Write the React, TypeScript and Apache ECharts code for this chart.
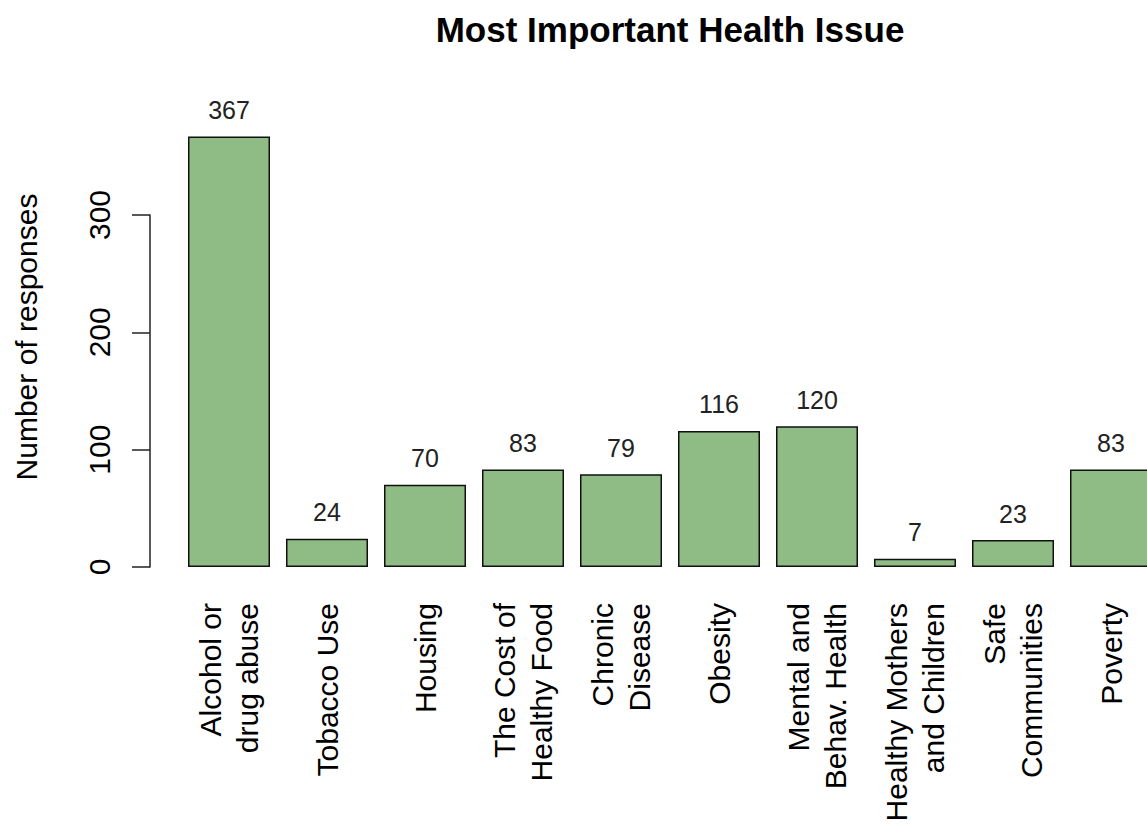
import React, { useEffect, useRef } from "react";
import * as echarts from "echarts";

const categories = [
  "Alcohol or\ndrug abuse",
  "Tobacco Use",
  "Housing",
  "The Cost of\nHealthy Food",
  "Chronic\nDisease",
  "Obesity",
  "Mental and\nBehav. Health",
  "Healthy Mothers\nand Children",
  "Safe\nCommunities",
  "Poverty",
];
const responses = [367, 24, 70, 83, 79, 116, 120, 7, 23, 83];
const yTicks = { min: 0, max: 300, interval: 100 };
const titleText = "Most Important Health Issue";
const yName = "Number of responses";

const FONT = "'Liberation Sans', Arial, sans-serif";

export default function App() {
  const ref = useRef<HTMLDivElement>(null);
  useEffect(() => {
    if (!ref.current) return;
    const chart = echarts.init(ref.current, undefined, { renderer: "svg" });
    chart.setOption({
      animation: false,
      backgroundColor: "#ffffff",
      textStyle: { fontFamily: FONT },
      title: {
        text: titleText,
        left: 665,
        top: 7,
        textAlign: "center",
        textStyle: { fontSize: 35, fontWeight: "bold", color: "#000", fontFamily: FONT },
      },
      graphic: [
        {
          type: "text",
          x: 26,
          y: 337,
          rotation: Math.PI / 2,
          style: {
            text: yName,
            fontSize: 30,
            fontFamily: FONT,
            fill: "#000",
            align: "center",
            verticalAlign: "middle",
          },
        },
      ],
      grid: { left: 180, width: 980, top: 215, bottom: 262, containLabel: false },
      xAxis: {
        type: "category",
        data: categories,
        axisLine: { show: false },
        axisTick: { show: false },
        axisLabel: {
          interval: 0,
          rotate: 90,
          margin: 36,
          fontSize: 30,
          lineHeight: 37,
          color: "#000",
          fontFamily: FONT,
        },
      },
      yAxis: {
        type: "value",
        min: yTicks.min,
        max: yTicks.max,
        interval: yTicks.interval,
        offset: 30,
        splitLine: { show: false },
        axisLine: { show: true, lineStyle: { color: "#222", width: 1.5 } },
        axisTick: { show: true, length: 18, lineStyle: { color: "#222", width: 1.5 } },
        axisLabel: {
          rotate: 90,
          margin: 36,
          fontSize: 30,
          color: "#000",
          fontFamily: FONT,
        },
      },
      series: [
        {
          type: "bar",
          data: responses,
          barWidth: 82,
          clip: false,
          itemStyle: { color: "#8FBC85", borderColor: "#111", borderWidth: 1.5 },
          label: {
            show: true,
            position: "top",
            distance: 14,
            fontSize: 25,
            color: "#222",
            fontFamily: FONT,
          },
        },
      ],
    });
    return () => chart.dispose();
  }, []);
  return (
    <div
      style={{
        position: "fixed",
        left: 0,
        top: 0,
        width: 1147,
        height: 829,
        overflow: "hidden",
        background: "#fff",
      }}
    >
      <div ref={ref} style={{ width: 1175, height: 829 }} />
    </div>
  );
}
